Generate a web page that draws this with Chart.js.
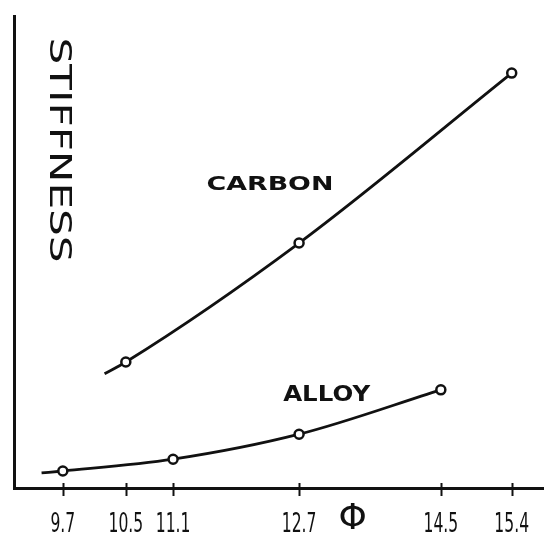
<!DOCTYPE html>
<html>
<head>
<meta charset="utf-8">
<script src="https://cdn.jsdelivr.net/npm/chart.js@4"></script>
<style>
  html, body { margin: 0; padding: 0; background: #fff; }
  canvas { display: block; }
</style>
</head>
<body>
<canvas id="chart" width="544" height="538"></canvas>
<script>
// diameter ticks along the bottom
const tickValues = [9.7, 10.5, 11.1, 12.7, 14.5, 15.4];

// curves (first entry of each is where the pen starts, unmarked)
const carbonX = [10.23, 10.5, 12.7, 15.4];
const carbonY = [24.2, 26.7, 51.9, 87.9];
const alloyX = [9.43, 9.7, 11.1, 12.7, 14.5];
const alloyY = [3.2, 3.6, 6.1, 11.4, 20.8];

const ink = "#111";
const hand = "'DejaVu Sans', sans-serif";

function toPoints(xs, ys) {
  return xs.map((x, i) => ({ x: x, y: ys[i] }));
}

// hand lettering: text squeezed into a given cap height with a horizontal factor
function drawLetters(ctx, text, cx, cy, opts) {
  const size = 30;
  const cap = size * 0.73;
  ctx.save();
  ctx.translate(cx, cy);
  ctx.rotate(opts.angle || 0);
  ctx.font = (opts.weight || "normal") + " " + size + "px " + hand;
  const w = ctx.measureText(text).width;
  const sx = opts.width ? opts.width / w : opts.sx;
  ctx.scale(sx, opts.height / cap);
  ctx.fillStyle = ink;
  ctx.textAlign = "center";
  ctx.textBaseline = "alphabetic";
  ctx.fillText(text, 0, cap / 2);
  ctx.restore();
}

const sketchMarks = {
  id: "sketchMarks",
  afterDraw(chart) {
    const ctx = chart.ctx;
    const xs = chart.scales.x;
    const ys = chart.scales.y;
    const base = chart.chartArea.bottom;

    // tick strokes crossing the axis, with their numbers underneath
    ctx.save();
    ctx.strokeStyle = ink;
    ctx.lineWidth = 2;
    xs.ticks.forEach((t) => {
      const px = Math.round(xs.getPixelForValue(t.value)) + 0.5;
      ctx.beginPath();
      ctx.moveTo(px, base - 5);
      ctx.lineTo(px, base + 8);
      ctx.stroke();
    });
    ctx.restore();
    xs.ticks.forEach((t) => {
      drawLetters(ctx, String(t.value), xs.getPixelForValue(t.value), base + 34, { sx: 0.52, height: 19 });
    });

    // axis symbol for diameter
    ctx.save();
    ctx.fillStyle = ink;
    ctx.font = "36px 'DejaVu Sans', sans-serif";
    ctx.textAlign = "center";
    ctx.textBaseline = "middle";
    ctx.fillText("Φ", xs.getPixelForValue(13.38), 520);
    ctx.restore();

    // series names beside the curves
    drawLetters(ctx, "CARBON", xs.getPixelForValue(12.33), ys.getPixelForValue(64.6), { width: 127, height: 14, weight: "bold" });
    drawLetters(ctx, "ALLOY", xs.getPixelForValue(13.05), ys.getPixelForValue(20.1), { width: 87, height: 15, weight: "bold" });

    // vertical axis name
    drawLetters(ctx, "STIFFNESS", 61, 150, { width: 225, height: 22, angle: Math.PI / 2 });
  },
};

const lineStyle = {
  borderColor: ink,
  borderWidth: 2.8,
  pointBackgroundColor: "#fff",
  pointBorderColor: ink,
  pointBorderWidth: 2.5,
  cubicInterpolationMode: "monotone",
  fill: false,
};

new Chart(document.getElementById("chart"), {
  type: "line",
  data: {
    datasets: [
      Object.assign({
        label: "CARBON",
        data: toPoints(carbonX, carbonY),
        pointRadius: [0, 4.5, 4.5, 4.5],
      }, lineStyle),
      Object.assign({
        label: "ALLOY",
        data: toPoints(alloyX, alloyY),
        pointRadius: [0, 4.5, 4.5, 4.5, 4.5],
      }, lineStyle),
    ],
  },
  options: {
    responsive: false,
    animation: false,
    devicePixelRatio: 1,
    layout: {
      autoPadding: false,
      padding: { left: 14, top: 16, right: 0, bottom: 0 },
    },
    plugins: {
      legend: { display: false },
      tooltip: { enabled: false },
    },
    scales: {
      x: {
        type: "linear",
        min: 9.08,
        max: 15.81,
        afterBuildTicks: (scale) => {
          scale.ticks = tickValues.map((v) => ({ value: v }));
        },
        afterFit: (scale) => {
          scale.height = 50;
          scale.paddingLeft = 0;
          scale.paddingRight = 0;
        },
        grid: { display: false, drawTicks: false },
        border: { display: true, color: ink, width: 3 },
        ticks: { display: false },
      },
      y: {
        type: "linear",
        min: 0,
        max: 100,
        afterFit: (scale) => {
          scale.width = 0;
        },
        grid: { display: false },
        border: { display: true, color: ink, width: 3 },
        ticks: { display: false },
      },
    },
  },
  plugins: [sketchMarks],
});
</script>
</body>
</html>
